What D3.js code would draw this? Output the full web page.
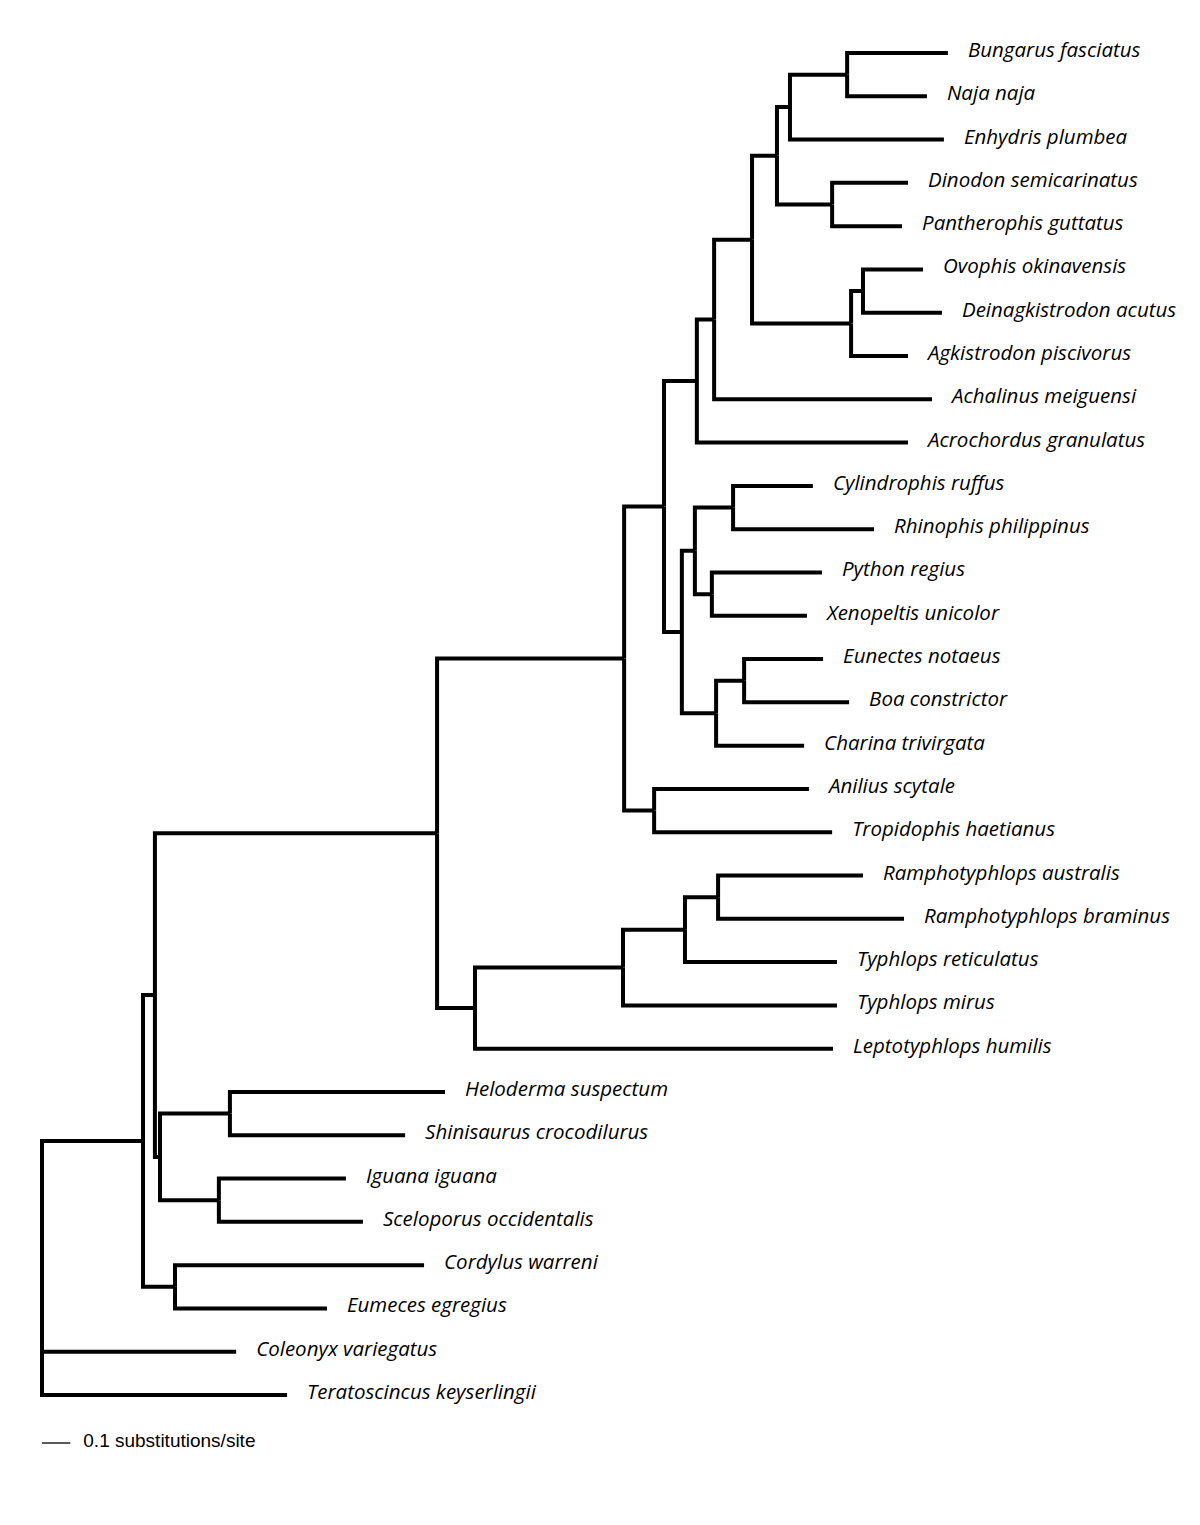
<!DOCTYPE html>
<html>
<head>
<meta charset="utf-8">
<script src="https://cdn.jsdelivr.net/npm/d3@7"></script>
<style>
  html, body { margin: 0; padding: 0; background: #fff; }
  svg { display: block; }
</style>
</head>
<body>
<svg id="chart" width="1200" height="1525"></svg>
<script>
// ---- Tree data (depth-first order; children listed top to bottom) ----
const nodeIds = [
  "root","A","B","Serpentes","Alethinophidia","D","Caenophidia","N714","N752","Colubroidea","N790","BN",
  "Bungarus fasciatus","Naja naja","Enhydris plumbea","DP","Dinodon semicarinatus","Pantherophis guttatus",
  "Viperidae","OD","Ovophis okinavensis","Deinagkistrodon acutus","Agkistrodon piscivorus",
  "Achalinus meiguensi","Acrochordus granulatus",
  "Henophidia","N695","CR","Cylindrophis ruffus","Rhinophis philippinus","PX","Python regius","Xenopeltis unicolor",
  "N716","EB","Eunectes notaeus","Boa constrictor","Charina trivirgata",
  "AT","Anilius scytale","Tropidophis haetianus",
  "Scolecophidia","N623","N685","N718","Ramphotyphlops australis","Ramphotyphlops braminus","Typhlops reticulatus",
  "Typhlops mirus","Leptotyphlops humilis",
  "C","HS","Heloderma suspectum","Shinisaurus crocodilurus","IS","Iguana iguana","Sceloporus occidentalis",
  "CE","Cordylus warreni","Eumeces egregius",
  "Coleonyx variegatus","Teratoscincus keyserlingii"
];
const parentIds = [
  null,"root","A","B","Serpentes","Alethinophidia","D","Caenophidia","N714","N752","Colubroidea","N790",
  "BN","BN","N790","Colubroidea","DP","DP",
  "N752","Viperidae","OD","OD","Viperidae",
  "N714","Caenophidia",
  "D","Henophidia","N695","CR","CR","N695","PX","PX",
  "Henophidia","N716","EB","EB","N716",
  "Alethinophidia","AT","AT",
  "Serpentes","Scolecophidia","N623","N685","N718","N718","N685",
  "N623","Scolecophidia",
  "B","C","HS","HS","C","IS","IS",
  "A","CE","CE",
  "root","root"
];
// branch lengths in substitutions/site
const branchLengths = [
  0,0.357,0.042,0.997,0.661,0.141,0.116,0.061,0.134,0.088,0.046,0.202,
  0.356,0.282,0.544,0.195,0.268,0.247,
  0.350,0.042,0.212,0.279,0.201,
  0.770,0.746,
  0.063,0.046,0.135,0.282,0.498,0.060,0.389,0.336,
  0.121,0.099,0.279,0.371,0.311,
  0.106,0.547,0.629,
  0.134,0.523,0.219,0.117,0.512,0.657,0.537,
  0.756,1.265,
  0.018,0.247,0.760,0.619,0.208,0.449,0.509,
  0.113,0.880,0.537,
  0.686,0.866
];
const scaleBarValue = 0.1;
const scaleBarLabel = "0.1 substitutions/site";

// ---- Build hierarchy ----
const table = nodeIds.map((id, i) => ({ id, parent: parentIds[i], len: branchLengths[i] }));
const root = d3.stratify().id(d => d.id).parentId(d => d.parent)(table);

root.eachBefore(n => { n.dist = n.parent ? n.parent.dist + n.data.len : 0; });
const leaves = root.leaves();

const x = d3.scaleLinear().domain([0, 1]).range([42, 325]);
const y = d3.scaleLinear().domain([0, leaves.length - 1]).range([53, 1395]);

leaves.forEach((l, i) => { l.py = y(i); });
root.eachAfter(n => {
  if (n.children) {
    n.py = (n.children[0].py + n.children[n.children.length - 1].py) / 2;
  }
  n.px = x(n.dist);
});

const svg = d3.select("#chart");
const g = svg.append("g");

// branches: elbow from parent
g.selectAll("path.branch")
  .data(root.descendants().filter(d => d.parent))
  .join("path")
  .attr("class", "branch")
  .attr("d", d => `M${d.parent.px},${d.parent.py}V${d.py}H${d.px}`)
  .attr("fill", "none")
  .attr("stroke", "#000")
  .attr("stroke-width", 4)
  .attr("stroke-linejoin", "miter");

// labels
g.selectAll("text.tip")
  .data(leaves)
  .join("text")
  .attr("class", "tip")
  .attr("x", d => d.px + 20)
  .attr("y", d => d.py + 4)
  .attr("font-family", "'Open Sans', Lato, sans-serif")
  .attr("font-style", "italic")
  .attr("font-size", 20.5)
  .attr("fill", "#000")
  .text(d => d.id);

// scale bar
const sbY = 1443;
svg.append("line")
  .attr("x1", x(0)).attr("x2", x(scaleBarValue))
  .attr("y1", sbY).attr("y2", sbY)
  .attr("stroke", "#000").attr("stroke-width", 1.3);
svg.append("text")
  .attr("x", x(scaleBarValue) + 13)
  .attr("y", sbY + 4)
  .attr("font-family", "'Liberation Sans', Arial, Helvetica, sans-serif")
  .attr("font-size", 19)
  .attr("fill", "#000")
  .text(scaleBarLabel);
</script>
</body>
</html>
